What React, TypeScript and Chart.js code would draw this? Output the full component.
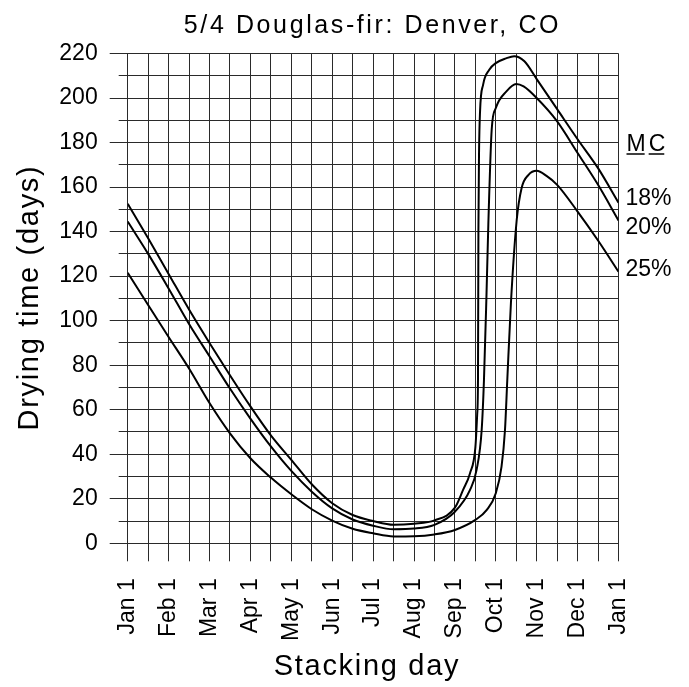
import React, { useEffect, useRef } from 'react';
import { Chart, registerables } from 'chart.js';

Chart.register(...registerables);

// ---- data (x = months since Jan 1, y = drying time in days) ----
const monthLabels = ['Jan 1', 'Feb 1', 'Mar 1', 'Apr 1', 'May 1', 'Jun 1', 'Jul 1', 'Aug 1', 'Sep 1', 'Oct 1', 'Nov 1', 'Dec 1', 'Jan 1'];
const seriesNames = ['18%', '20%', '25%'];

const mc18x = [0, 0.5, 1, 1.5, 2, 2.5, 3, 3.5, 4, 4.5, 5, 5.5, 6, 6.5, 7, 7.5, 8, 8.2, 8.37, 8.5, 8.545, 8.565, 8.575, 8.59, 8.615, 8.69, 8.84, 9, 9.25, 9.45, 9.7, 10, 10.5, 11, 11.5, 12];
const mc18y = [152.5, 137, 121, 105, 90, 75.5, 61.5, 48.5, 37.5, 26.5, 18, 12.7, 10, 8.3, 8.8, 10.3, 16, 24, 31.5, 43, 58, 75, 140, 175, 194, 206, 212.7, 215.7, 217.8, 218.8, 216.5, 208.5, 195, 181.5, 168.5, 153];

const mc20x = [0, 0.5, 1, 1.5, 2, 2.5, 3, 3.5, 4, 4.5, 5, 5.5, 6, 6.5, 7, 7.5, 8, 8.37, 8.53, 8.655, 8.71, 8.77, 8.817, 8.9, 9, 9.26, 9.5, 9.68, 10, 10.5, 11, 11.5, 12];
const mc20y = [144.5, 130, 114.5, 98.5, 84, 69.5, 56, 43.5, 32.5, 23.2, 15.7, 10.7, 7.9, 6.3, 6.6, 8.3, 14.2, 24, 33, 51, 73, 110, 143, 186, 195.5, 203, 206.3, 205.2, 200, 189.5, 175.3, 161, 145];

const mc25x = [0, 0.5, 1, 1.5, 2, 2.5, 3, 3.5, 4, 4.5, 5, 5.5, 6, 6.5, 7, 7.5, 8, 8.5, 8.78, 9, 9.14, 9.225, 9.28, 9.37, 9.51, 9.63, 9.8, 10, 10.24, 10.5, 11, 11.5, 12];
const mc25y = [121.5, 107, 92.7, 78.5, 63, 49.4, 38.2, 29.5, 22, 15.3, 10.2, 6.5, 4.5, 3.1, 3.2, 4, 6, 10.5, 15, 22.5, 34.4, 51, 73, 108, 145, 159.5, 165.5, 167.3, 165, 161, 149, 136, 122];

const yMin = 0;
const yMax = 220;
const yStep = 10;
const yLabelStep = 20;
const xMin = 0;
const xMax = 12;
const xStep = 0.5;

const TITLE = '5/4 Douglas-fir: Denver, CO';
const X_TITLE = 'Stacking day';
const Y_TITLE = 'Drying time (days)';
const LEGEND_TITLE = ['M', 'C'];

// ---- styles ----
const FONT = '"Liberation Sans", Arial, Helvetica, sans-serif';
const GRID = '#2a2a2a';
const INK = '#000';

const toPoints = (xs: number[], ys: number[]) => xs.map((x, i) => ({ x, y: ys[i] }));

const align = (p: number) => Math.round(p - 0.5) + 0.5;

const textPlugin = {
  id: 'douglasText',
  afterDraw(chart: any) {
    const { ctx, chartArea, scales } = chart;
    const ys = scales.y;
    ctx.save();

    // minor (short) y tick marks
    ctx.strokeStyle = GRID;
    ctx.lineWidth = 1;
    ctx.beginPath();
    for (let v = yMin; v <= yMax; v += yStep) {
      if (v % yLabelStep === 0) continue;
      const p = align(ys.getPixelForValue(v));
      ctx.moveTo(chartArea.left - 9, p);
      ctx.lineTo(chartArea.left, p);
    }
    ctx.stroke();

    ctx.fillStyle = INK;
    ctx.textBaseline = 'alphabetic';

    // title
    ctx.font = `25px ${FONT}`;
    ctx.letterSpacing = '2.6px';
    ctx.textAlign = 'center';
    ctx.fillText(TITLE, 372.5, 33);

    // x axis title
    ctx.font = `29px ${FONT}`;
    ctx.letterSpacing = '1.7px';
    ctx.fillText(X_TITLE, 367, 675);

    // y axis title
    ctx.save();
    ctx.translate(38, (chartArea.top + chartArea.bottom) / 2);
    ctx.rotate(-Math.PI / 2);
    ctx.fillText(Y_TITLE, 0.85, 0);
    ctx.restore();

    // series labels
    ctx.font = `23px ${FONT}`;
    ctx.letterSpacing = '0px';
    ctx.textAlign = 'left';
    const lx = chartArea.right + 7;
    let mx = lx + 1;
    ctx.lineWidth = 1.5;
    ctx.strokeStyle = INK;
    for (const ch of LEGEND_TITLE) {
      const w = ctx.measureText(ch).width;
      ctx.fillText(ch, mx, 151);
      ctx.beginPath();
      ctx.moveTo(mx, 154);
      ctx.lineTo(mx + w - 1, 154);
      ctx.stroke();
      mx += w + 3;
    }
    const baselines = [205, 234, 276];
    seriesNames.forEach((n, i) => ctx.fillText(n, lx, baselines[i]));

    ctx.restore();
  },
};

export default function App() {
  const ref = useRef<HTMLCanvasElement | null>(null);

  useEffect(() => {
    if (!ref.current) return;
    const lineStyle = {
      borderColor: INK,
      borderWidth: 2,
      pointRadius: 0,
      fill: false,
      cubicInterpolationMode: 'monotone' as const,
    };
    const chart = new Chart(ref.current, {
      type: 'line',
      data: {
        datasets: [
          { label: seriesNames[0], data: toPoints(mc18x, mc18y), ...lineStyle },
          { label: seriesNames[1], data: toPoints(mc20x, mc20y), ...lineStyle },
          { label: seriesNames[2], data: toPoints(mc25x, mc25y), ...lineStyle },
        ],
      },
      options: {
        animation: false,
        responsive: false,
        devicePixelRatio: 1,
        events: [],
        layout: { padding: { top: 53.5, right: 70.5, left: 0, bottom: 0 } },
        plugins: {
          legend: { display: false },
          title: { display: false },
          tooltip: { enabled: false },
        },
        scales: {
          x: {
            type: 'linear',
            min: xMin,
            max: xMax,
            position: 'bottom',
            afterFit: (s: any) => {
              s.height = 143.7;
            },
            ticks: {
              stepSize: xStep,
              autoSkip: false,
              minRotation: 90,
              maxRotation: 90,
              padding: 17,
              color: INK,
              font: { family: FONT, size: 23 },
              callback: (v: any) => (Number.isInteger(Number(v)) ? monthLabels[Number(v)] : ''),
            },
            grid: { color: GRID, lineWidth: 1, tickLength: 18, tickColor: GRID, drawTicks: true },
            border: { color: GRID, width: 1 },
          },
          y: {
            type: 'linear',
            min: yMin,
            max: yMax,
            afterFit: (s: any) => {
              s.width = 127.7;
            },
            ticks: {
              stepSize: yStep,
              autoSkip: false,
              padding: 12,
              color: INK,
              font: { family: FONT, size: 23 },
              callback: (v: any) => (Number(v) % yLabelStep === 0 ? String(v) : ''),
            },
            grid: {
              color: GRID,
              lineWidth: 1,
              tickLength: 18,
              tickColor: (c: any) => (c.tick && c.tick.value % yLabelStep === 0 ? GRID : 'rgba(0,0,0,0)'),
            },
            border: { color: GRID, width: 1 },
          },
        },
      },
      plugins: [textPlugin],
    });
    return () => chart.destroy();
  }, []);

  return (
    <div style={{ position: 'absolute', left: 0, top: 0, width: 689, height: 687, background: '#fff' }}>
      <canvas ref={ref} width={689} height={687} style={{ display: 'block', width: 689, height: 687 }} />
    </div>
  );
}
